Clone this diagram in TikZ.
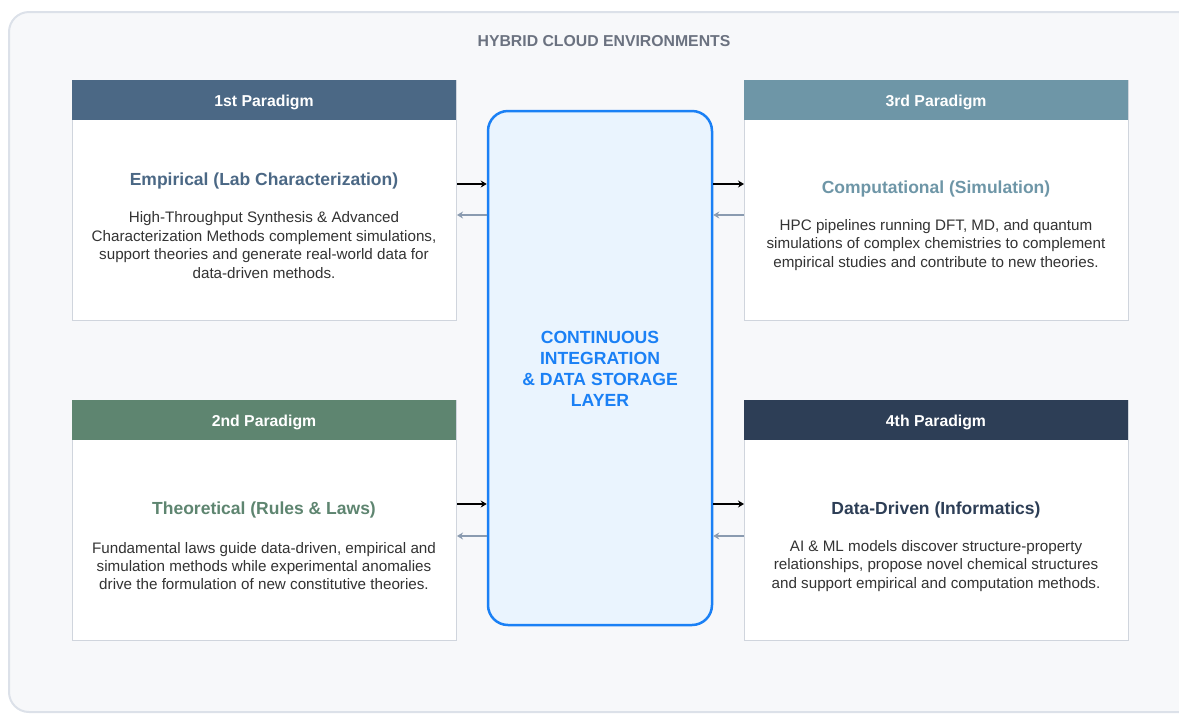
\documentclass[tikz,border=0pt]{standalone}
\usepackage{fontspec}
\setmainfont{Liberation Sans}
\usetikzlibrary{arrows.meta}
\definecolor{cA}{HTML}{4B6885}
\definecolor{cB}{HTML}{5E8570}
\definecolor{cC}{HTML}{6E96A7}
\definecolor{cD}{HTML}{2D3E56}
\definecolor{ttlgray}{HTML}{6B7280}
\definecolor{framefill}{HTML}{F7F8FA}
\definecolor{frameline}{HTML}{DCE1E9}
\definecolor{cardline}{HTML}{D0D5DD}
\definecolor{corefill}{HTML}{EAF4FE}
\definecolor{coreline}{HTML}{1A80F5}
\definecolor{backc}{HTML}{8A9BB0}
\definecolor{bodyc}{HTML}{333333}
\tikzset{
  frame/.style={draw=frameline, fill=framefill, line width=2pt, rounded corners=20pt, anchor=north west, inner sep=0pt},
  card/.style={draw=cardline, fill=white, line width=1pt, anchor=north west, minimum width=384pt, minimum height=240pt, inner sep=0pt},
  hdr/.style={anchor=north west, minimum width=384pt, minimum height=40pt, inner sep=0pt},
  hdrtxt/.style={text=white, font=\fontsize{15.8}{18}\selectfont\bfseries, inner sep=0pt},
  ttl/.style={font=\fontsize{17.5}{21}\selectfont\bfseries},
  body/.style={align=center, text=bodyc, font=\fontsize{15.2}{18.4}\selectfont, inner sep=0pt},
  core/.style={draw=coreline, fill=corefill, line width=2.5pt, rounded corners=20pt, minimum width=224pt, minimum height=514pt},
  coretxt/.style={align=center, text=coreline, font=\fontsize{17.6}{21}\selectfont\bfseries},
  fwd/.style={black, line width=1.6pt, -{Stealth[length=6pt,width=7pt]}},
  bck/.style={backc, line width=1.6pt, -{Stealth[length=6pt,width=7pt]}}
}
\begin{document}
\begin{tikzpicture}[x=1pt,y=-1pt]
\useasboundingbox (0,0) rectangle (1179,713);
\node[frame, minimum width=1190pt, minimum height=700pt] (frame) at (8,11) {};
\node[text=ttlgray, font=\fontsize{15.8}{18}\selectfont\bfseries] (title) at (604,41) {HYBRID CLOUD ENVIRONMENTS};

% core
\node[core] (core) at (600,368) {};
\node[coretxt] (coretext) at (600,369) {CONTINUOUS\\INTEGRATION\\\& DATA STORAGE\\LAYER};

% 1st
\node[card] (p1) at (72,80) {};
\node[hdr, fill=cA] (p1h) at (72,80) {};
\node[hdrtxt] (p1l) at (264,102) {1st Paradigm};
\node[ttl, text=cA] (p1t) at (264,181) {Empirical (Lab Characterization)};
\node[body] (p1b) at (264,245) {High-Throughput Synthesis \& Advanced\\Characterization Methods complement simulations,\\support theories and generate real-world data for\\data-driven methods.};

% 3rd
\node[card] (p3) at (744,80) {};
\node[hdr, fill=cC] (p3h) at (744,80) {};
\node[hdrtxt] (p3l) at (936,102) {3rd Paradigm};
\node[ttl, text=cC] (p3t) at (936,189) {Computational (Simulation)};
\node[body] (p3b) at (936,245) {HPC pipelines running DFT, MD, and quantum\\simulations of complex chemistries to complement\\empirical studies and contribute to new theories.};

% 2nd
\node[card] (p2) at (72,400) {};
\node[hdr, fill=cB] (p2h) at (72,400) {};
\node[hdrtxt] (p2l) at (264,422) {2nd Paradigm};
\node[ttl, text=cB] (p2t) at (264,510) {Theoretical (Rules \& Laws)};
\node[body] (p2b) at (264,566) {Fundamental laws guide data-driven, empirical and\\simulation methods while experimental anomalies\\drive the formulation of new constitutive theories.};

% 4th
\node[card] (p4) at (744,400) {};
\node[hdr, fill=cD] (p4h) at (744,400) {};
\node[hdrtxt] (p4l) at (936,422) {4th Paradigm};
\node[ttl, text=cD] (p4t) at (936,510) {Data-Driven (Informatics)};
\node[body] (p4b) at (936,566) {AI \& ML models discover structure-property\\relationships, propose novel chemical structures\\and support empirical and computation methods.};

% arrows
\coordinate (yA) at (0,184);
\coordinate (yB) at (0,215);
\coordinate (yC) at (0,504);
\coordinate (yD) at (0,536);
\draw[fwd] (p1.east |- yA) -- (core.west |- yA);
\draw[bck] (core.west |- yB) -- (p1.east |- yB);
\draw[fwd] (core.east |- yA) -- (p3.west |- yA);
\draw[bck] (p3.west |- yB) -- (core.east |- yB);
\draw[fwd] (p2.east |- yC) -- (core.west |- yC);
\draw[bck] (core.west |- yD) -- (p2.east |- yD);
\draw[fwd] (core.east |- yC) -- (p4.west |- yC);
\draw[bck] (p4.west |- yD) -- (core.east |- yD);
\end{tikzpicture}
\end{document}
